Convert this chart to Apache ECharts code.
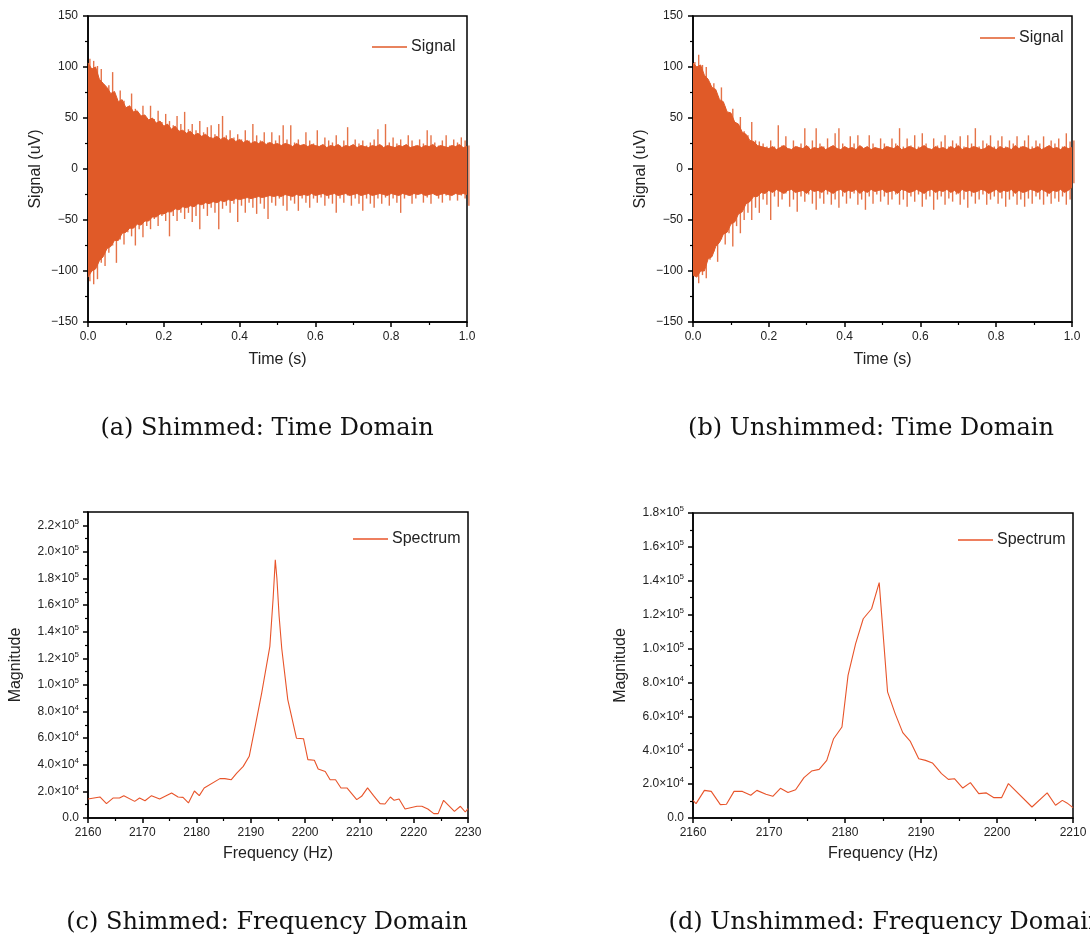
<!DOCTYPE html>
<html>
<head>
<meta charset="utf-8">
<script src="https://cdn.jsdelivr.net/npm/echarts@6/dist/echarts.min.js"></script>
<style>html,body{margin:0;padding:0;background:#fff}#c{width:1090px;height:940px}</style>
</head>
<body>
<div id="c"></div>
<script>
// ---------- DATA ----------
const sampleStep = 0.01;   // seconds between envelope samples (t = 0 ... 1.0)
const spikeOffset = 0.005; // peak spikes sit between solid-core samples

// (a) Shimmed time-domain signal: peak spikes (uV)
const aUpper = [108,106,101,98,80,82,95,69,77,67,
  61,74,59,54,62,49,62,49,57,46,
  54,47,43,52,44,56,39,44,38,47,
  36,41,43,34,44,52,33,38,31,34,
  29,38,28,44,33,28,36,26,36,28,
  33,43,29,43,26,29,23,36,28,25,
  38,23,31,28,26,33,23,28,41,23,
  29,25,28,23,26,29,39,23,44,26,
  31,25,29,23,33,28,23,29,25,38,
  33,26,23,28,33,23,29,26,31,28,
  23];
const aLower = [-110,-113,-108,-92,-95,-82,-75,-92,-69,-74,
  -62,-66,-75,-59,-67,-56,-59,-49,-56,-46,
  -51,-66,-46,-51,-43,-49,-43,-52,-46,-59,
  -39,-46,-38,-43,-59,-39,-36,-43,-34,-52,
  -36,-43,-33,-38,-44,-34,-39,-49,-33,-36,
  -29,-36,-41,-31,-34,-41,-29,-33,-38,-29,
  -33,-28,-36,-29,-34,-43,-29,-33,-26,-36,
  -29,-34,-41,-29,-34,-38,-29,-34,-28,-36,
  -29,-33,-43,-29,-26,-34,-29,-23,-33,-28,
  -34,-25,-29,-33,-26,-31,-23,-31,-26,-29,
  -36];
// (a) solid core of the oscillation (uV)
const aBodyUpper = [104,98,100,88,84,80,74,76,66,68,
  60,62,56,57,52,53,48,50,45,47,
  42,44,39,42,37,38,35,37,33,35,
  32,34,31,30,32,29,31,28,30,27,
  29,26,28,25,27,25,27,24,26,24,
  25,23,25,24,22,25,23,24,22,24,
  23,22,24,21,23,22,24,21,23,22,
  24,21,23,22,21,23,22,24,21,23,
  22,21,23,22,24,21,22,23,21,23,
  22,24,21,23,22,21,23,22,24,21,
  22];
const aBodyLower = [-106,-100,-98,-90,-86,-78,-76,-70,-70,-63,
  -62,-58,-58,-54,-55,-51,-51,-47,-47,-44,
  -44,-42,-42,-39,-40,-37,-38,-36,-37,-34,
  -35,-33,-34,-32,-33,-31,-32,-30,-31,-29,
  -30,-29,-28,-29,-28,-27,-28,-27,-26,-27,
  -26,-27,-25,-26,-27,-25,-26,-25,-26,-24,
  -26,-25,-24,-26,-25,-24,-26,-25,-24,-26,
  -25,-24,-26,-25,-24,-26,-25,-24,-25,-26,
  -24,-25,-26,-24,-25,-26,-24,-25,-24,-26,
  -25,-24,-26,-25,-24,-25,-26,-24,-25,-24,
  -25];

// (b) Unshimmed time-domain signal: peak spikes (uV)
const bUpper = [105,112,102,100,84,84,71,80,61,53,
  59,43,51,37,33,46,28,27,25,22,
  28,22,43,23,32,20,28,22,25,40,
  22,28,40,25,22,30,22,35,40,25,
  20,32,25,33,22,8,33,25,20,30,
  25,22,30,25,40,22,30,23,33,22,
  35,25,20,30,23,27,33,22,28,25,
  32,22,33,25,40,22,28,25,33,22,
  28,32,22,28,25,32,22,28,33,22,
  28,25,32,22,28,25,30,22,35,27,
  28];
const bLower = [-105,-112,-104,-107,-89,-81,-91,-69,-74,-63,
  -76,-56,-63,-50,-43,-50,-38,-43,-30,-35,
  -50,-27,-37,-30,-24,-37,-30,-42,-27,-32,
  -25,-34,-40,-29,-34,-25,-35,-30,-38,-27,
  -34,-29,-24,-35,-30,-40,-27,-34,-25,-32,
  -27,-35,-30,-25,-35,-30,-37,-27,-32,-25,
  -37,-30,-27,-40,-30,-27,-35,-29,-32,-25,
  -35,-30,-38,-27,-34,-30,-25,-35,-30,-27,
  -34,-29,-37,-30,-27,-35,-30,-37,-29,-34,
  -27,-30,-35,-27,-34,-29,-32,-27,-35,-30,
  -14];
// (b) solid core (uV)
const bBodyUpper = [104,100,102,92,88,80,78,68,66,56,
  55,46,44,36,34,28,27,23,22,21,
  20,22,19,21,23,20,19,22,21,20,
  23,19,21,20,22,19,21,23,20,19,
  22,20,21,19,23,20,22,19,21,20,
  19,22,21,20,23,19,20,22,21,19,
  21,23,20,19,22,20,21,19,22,20,
  23,19,21,20,22,21,19,20,23,21,
  19,22,20,21,19,23,20,22,21,19,
  20,22,19,21,23,20,21,19,22,20,
  21];
const bBodyLower = [-104,-106,-100,-100,-88,-86,-76,-72,-64,-62,
  -54,-52,-44,-42,-34,-32,-27,-27,-23,-24,
  -21,-23,-20,-22,-24,-21,-20,-23,-22,-21,
  -24,-20,-22,-21,-23,-20,-22,-24,-21,-20,
  -23,-21,-22,-20,-24,-21,-23,-20,-22,-21,
  -20,-23,-22,-21,-24,-20,-21,-23,-22,-20,
  -22,-24,-21,-20,-23,-21,-22,-20,-23,-21,
  -24,-20,-22,-21,-23,-22,-20,-21,-24,-22,
  -20,-23,-21,-22,-20,-24,-21,-23,-22,-20,
  -21,-23,-20,-22,-24,-21,-22,-20,-23,-21,
  -18];

// (c) Shimmed spectrum
const cFreq = [2160.0,2162.2,2163.4,2164.6,2165.8,2166.6,2168.6,2169.5,2170.5,2171.7,
  2173.2,2175.4,2176.6,2177.5,2178.5,2179.6,2180.5,2181.4,2184.3,2185.2,
  2186.4,2187.4,2188.6,2189.7,2190.8,2192.0,2193.5,2194.1,2194.5,2194.8,
  2195.2,2195.7,2196.8,2198.4,2199.7,2200.5,2201.7,2202.4,2203.7,2204.6,
  2205.6,2206.6,2207.7,2209.5,2210.4,2211.5,2212.6,2213.8,2214.7,2215.7,
  2216.4,2217.3,2218.4,2220.6,2221.5,2222.6,2223.7,2224.5,2225.5,2227.5,
  2228.6,2229.5,2230.0];
const cMag = [14300,15800,10800,15000,15000,16800,12500,15000,13000,16800,
  14300,18800,15800,15500,11300,20300,16800,22600,29600,29600,
  28800,33800,38800,46400,68900,94000,129000,165000,194000,180000,
  152000,127000,89000,60000,59600,43900,43400,36800,35000,28800,
  28800,22600,22600,13800,16300,22600,16800,10800,10500,15800,
  13300,14300,6800,8800,8800,6800,3300,3300,13300,5000,
  8800,4500,7000];

// (d) Unshimmed spectrum
const dFreq = [2160.0,2160.4,2161.5,2162.4,2163.6,2164.4,2165.4,2166.5,2167.6,2168.4,
  2169.6,2170.5,2171.5,2172.5,2173.5,2174.6,2175.6,2176.6,2177.6,2178.5,
  2179.6,2180.4,2181.4,2182.4,2183.5,2184.5,2185.6,2186.6,2187.6,2188.6,
  2189.7,2190.6,2191.5,2192.7,2193.6,2194.4,2195.5,2196.5,2197.6,2198.6,
  2199.6,2200.6,2201.5,2204.6,2206.6,2207.7,2208.6,2209.2,2210.0];
const dMag = [10400,8500,16300,15700,7900,8100,15700,15700,13400,16300,
  14000,12800,17500,15000,16700,23800,27700,28700,34000,46800,
  53700,84200,102900,117600,123500,138900,74400,61600,50400,45200,
  35000,34000,32500,26200,22800,23200,17700,20900,14400,14800,
  12000,12000,20300,6500,14800,7500,10400,8900,6100];

const captions = ['(a) Shimmed: Time Domain', '(b) Unshimmed: Time Domain',
  '(c) Shimmed: Frequency Domain', '(d) Unshimmed: Frequency Domain'];

// ---------- CHART ----------
const F = "'Liberation Sans', Arial, sans-serif";
const SIG = '#E05A28';
const SPEC = '#E8542A';
const chart = echarts.init(document.getElementById('c'), null, {renderer: 'canvas'});

const pairs = (arr, off) => arr.map((v, i) => [+(i * sampleStep + off).toFixed(4), v]);
const zip = (xs, ys) => xs.map((x, i) => [x, ys[i]]);

const grids = [
  {left: 88, top: 16, width: 379, height: 306},
  {left: 693, top: 16, width: 379, height: 306},
  {left: 88, top: 512, width: 380, height: 306},
  {left: 693, top: 513, width: 380, height: 305}
].map(g => Object.assign({show: true, borderColor: '#000', borderWidth: 1.5, backgroundColor: 'transparent'}, g));

const common = {
  axisLine: {onZero: false, lineStyle: {color: '#000', width: 1.5}},
  axisTick: {show: true, inside: false, length: 5, lineStyle: {color: '#000', width: 1.5}},
  minorTick: {show: true, splitNumber: 2, length: 3, lineStyle: {color: '#000', width: 1.2}},
  splitLine: {show: false},
  nameLocation: 'middle',
  nameTextStyle: {fontSize: 16, color: '#222', fontFamily: F}
};
const minus = v => v < 0 ? '\u2212' + Math.abs(v) : String(v);
function sci(v) {
  if (v === 0) return '{m|0.0}';
  if (Math.round(v) % 20000 !== 0) return '';
  const e = Math.floor(Math.log10(v) + 1e-9);
  const m = v / Math.pow(10, e);
  return '{m|' + m.toFixed(1) + '\u00d710}{s|' + e + '}';
}
const sciRich = {
  m: {fontSize: 12, color: '#222', fontFamily: F, lineHeight: 16},
  s: {fontSize: 8, color: '#222', fontFamily: F, verticalAlign: 'top', lineHeight: 9}
};

const xAxes = [0, 1].map(gi => Object.assign({}, common, {
  type: 'value', gridIndex: gi, min: 0, max: 1, interval: 0.2,
  name: 'Time (s)', nameGap: 30,
  axisLabel: {fontSize: 12, color: '#222', fontFamily: F, margin: 9, formatter: v => v.toFixed(1)}
})).concat([
  Object.assign({}, common, {type: 'value', gridIndex: 2, min: 2160, max: 2230, interval: 10,
    name: 'Frequency (Hz)', nameGap: 28,
    axisLabel: {fontSize: 12, color: '#222', fontFamily: F, margin: 9, formatter: v => String(v)}}),
  Object.assign({}, common, {type: 'value', gridIndex: 3, min: 2160, max: 2210, interval: 10,
    name: 'Frequency (Hz)', nameGap: 28,
    axisLabel: {fontSize: 12, color: '#222', fontFamily: F, margin: 9, formatter: v => String(v)}})
]);

const yAxes = [0, 1].map(gi => Object.assign({}, common, {
  type: 'value', gridIndex: gi, min: -150, max: 150, interval: 50,
  name: 'Signal (uV)', nameGap: 44,
  axisLabel: {fontSize: 12, color: '#222', fontFamily: F, margin: 10, formatter: minus}
})).concat([
  Object.assign({}, common, {type: 'value', gridIndex: 2, min: 0, max: 230000, interval: 20000,
    name: 'Magnitude', nameGap: 64,
    axisLabel: {margin: 9, formatter: sci, rich: sciRich}}),
  Object.assign({}, common, {type: 'value', gridIndex: 3, min: 0, max: 180000, interval: 20000,
    name: 'Magnitude', nameGap: 64,
    axisLabel: {margin: 9, formatter: sci, rich: sciRich}})
]);

function bodySeries(data, gi) {
  return {
    name: 'Signal', type: 'line', xAxisIndex: gi, yAxisIndex: gi, data: data,
    showSymbol: false, symbol: 'none', animation: false, silent: true,
    color: SIG, lineStyle: {color: SIG, width: 1},
    areaStyle: {color: SIG, opacity: 1, origin: 0}
  };
}
function spikeSeries(data, gi) {
  return {
    name: 'Signal', type: 'bar', xAxisIndex: gi, yAxisIndex: gi, data: data,
    barWidth: 1.4, barGap: '-100%', animation: false, silent: true,
    color: SIG, itemStyle: {color: SIG, opacity: 0.85}
  };
}
function specSeries(data, gi) {
  return {
    name: 'Spectrum', type: 'line', xAxisIndex: gi, yAxisIndex: gi, data: data,
    showSymbol: false, symbol: 'none', animation: false, silent: true,
    color: SPEC, lineStyle: {color: SPEC, width: 1.1}
  };
}

function legend(name, left, cy) {
  return {
    data: [name], left: left, top: cy - 9, padding: 0, itemGap: 0,
    icon: 'rect', itemWidth: 35, itemHeight: 1.5, selectedMode: false,
    itemStyle: {color: name === 'Signal' ? SIG : SPEC, opacity: 1},
    textStyle: {fontSize: 16, color: '#222', fontFamily: F, padding: [0, 0, 0, -1]}
  };
}

const capPos = [[267, 429], [871, 429], [267, 923], [886, 923]];

chart.setOption({
  animation: false,
  backgroundColor: '#fff',
  grid: grids,
  xAxis: xAxes,
  yAxis: yAxes,
  legend: [legend('Signal', 372, 48), legend('Signal', 980, 39), legend('Spectrum', 353, 540), legend('Spectrum', 958, 541)],
  series: [
    bodySeries(pairs(aBodyUpper, 0), 0),
    bodySeries(pairs(aBodyLower, 0), 0),
    spikeSeries(pairs(aUpper, spikeOffset), 0),
    spikeSeries(pairs(aLower, spikeOffset), 0),
    bodySeries(pairs(bBodyUpper, 0), 1),
    bodySeries(pairs(bBodyLower, 0), 1),
    spikeSeries(pairs(bUpper, spikeOffset), 1),
    spikeSeries(pairs(bLower, spikeOffset), 1),
    specSeries(zip(cFreq, cMag), 2),
    specSeries(zip(dFreq, dMag), 3)
  ],
  graphic: captions.map((t, i) => ({
    type: 'text', x: capPos[i][0], y: capPos[i][1], silent: true,
    style: {text: t, fontSize: 24, fontFamily: "'DejaVu Serif', serif", fill: '#111',
      align: 'center', verticalAlign: 'middle', textAlign: 'center', textVerticalAlign: 'middle'}
  }))
});
</script>
</body>
</html>
